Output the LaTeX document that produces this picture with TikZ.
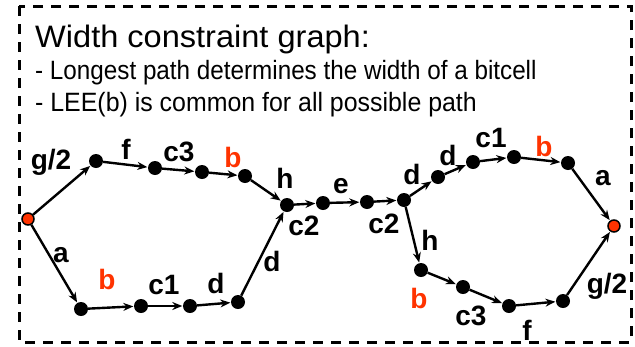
\documentclass[tikz,border=0pt]{standalone}
\usepackage{fontspec}
\usepackage{graphicx}
\setmainfont{Liberation Sans}
\usetikzlibrary{arrows.meta}
\definecolor{hot}{RGB}{255,51,0}
\newcommand{\hstretch}[2]{\scalebox{#1}[1]{#2}}
\tikzset{
  dot/.style={circle,fill=black,inner sep=0pt,minimum size=14pt},
  enddot/.style={circle,fill=hot,draw=black,line width=1.5pt,inner sep=0pt,minimum size=12pt},
  lbl/.style={font=\fontsize{28}{28}\selectfont\bfseries,inner sep=0pt},
  rlbl/.style={lbl,text=hot},
  con/.style={line width=2.4pt,-{Stealth[length=10pt,width=8pt]},shorten >=0.5pt},
  frame/.style={line width=3pt,dash pattern=on 10pt off 8pt},
  head/.style={anchor=base west,inner sep=0pt}
}
\begin{document}
\begin{tikzpicture}[x=1pt,y=-1pt]
\useasboundingbox (0,0) rectangle (635,346);
\draw[frame] (19,6) rectangle (631,342);
\node[head,font=\fontsize{31}{31}\selectfont] (t1) at (35,47) {\hstretch{1.05}{Width constraint graph:}};
\node[head,font=\fontsize{26.5}{26.5}\selectfont] (t2) at (35,79) {\hstretch{0.915}{- Longest path determines the width of a bitcell}};
\node[head,font=\fontsize{26.5}{26.5}\selectfont] (t3) at (35,111) {\hstretch{0.94}{- LEE(b) is common for all possible path}};
% nodes
\node[enddot] (L0) at (28,219) {};
\node[dot] (U1) at (96,161) {};
\node[dot] (U2) at (155,168) {};
\node[dot] (U3) at (202,172) {};
\node[dot] (U4) at (245,176) {};
\node[dot] (B1) at (81,309) {};
\node[dot] (B2) at (141,306) {};
\node[dot] (B3) at (190,306) {};
\node[dot] (B4) at (238,302) {};
\node[dot] (M1) at (287,205) {};
\node[dot] (M2) at (323,203) {};
\node[dot] (M3) at (367,202) {};
\node[dot] (M4) at (404,200) {};
\node[dot] (R1) at (438,177) {};
\node[dot] (R2) at (473,162) {};
\node[dot] (R3) at (514,157) {};
\node[dot] (R4) at (568,163) {};
\node[enddot] (E) at (614,226) {};
\node[dot] (S1) at (421,270) {};
\node[dot] (S2) at (463,287) {};
\node[dot] (S3) at (509,306) {};
\node[dot] (S4) at (563,301) {};
% connectors
\draw[con] (L0) -- (U1);
\draw[con] (U1) -- (U2);
\draw[con] (U2) -- (U3);
\draw[con] (U3) -- (U4);
\draw[con] (U4) -- (M1);
\draw[con] (L0) -- (B1);
\draw[con] (B1) -- (B2);
\draw[con] (B2) -- (B3);
\draw[con] (B3) -- (B4);
\draw[con] (B4) -- (M1);
\draw[con] (M1) -- (M2);
\draw[con] (M2) -- (M3);
\draw[con] (M3) -- (M4);
\draw[con] (M4) -- (R1);
\draw[con] (R1) -- (R2);
\draw[con] (R2) -- (R3);
\draw[con] (R3) -- (R4);
\draw[con] (R4) -- (E);
\draw[con] (M4) -- (S1);
\draw[con] (S1) -- (S2);
\draw[con] (S2) -- (S3);
\draw[con] (S3) -- (S4);
\draw[con] (S4) -- (E);
% labels
\node[lbl] (lg1) at (51,162) {g/2};
\node[lbl] (lf1) at (126,149) {f};
\node[lbl] (lc31) at (179,152) {c3};
\node[rlbl] (lb1) at (233,157) {b};
\node[lbl] (lh1) at (285,178) {h};
\node[lbl] (lc21) at (304,226) {c2};
\node[lbl] (la1) at (61,255) {a};
\node[rlbl] (lb2) at (107,279) {b};
\node[lbl] (lc11) at (164,285) {c1};
\node[lbl] (ld1) at (216,283) {d};
\node[lbl] (ld2) at (272,261) {d};
\node[lbl] (le) at (341,186) {e};
\node[lbl] (lc22) at (384,224) {c2};
\node[lbl] (ld3) at (412,174) {d};
\node[lbl] (ld4) at (448,155) {d};
\node[lbl] (lc12) at (491,138) {c1};
\node[rlbl] (lb3) at (544,146) {b};
\node[lbl] (la2) at (603,178) {a};
\node[lbl] (lh2) at (430,240) {h};
\node[rlbl] (lb4) at (419,298) {b};
\node[lbl] (lc32) at (471,316) {c3};
\node[lbl] (lf2) at (527,330) {f};
\node[lbl] (lg2) at (607,286) {g/2};
\end{tikzpicture}
\end{document}
